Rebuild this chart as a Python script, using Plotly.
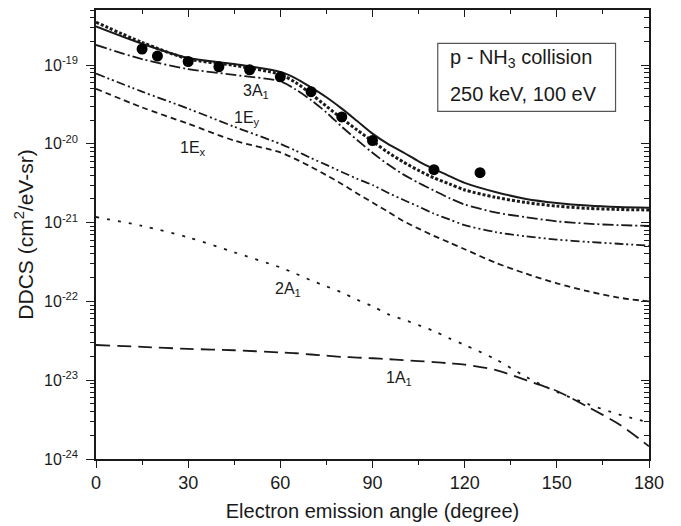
import plotly.graph_objects as go
import numpy as np

# ---------------- data ----------------
angles = [0, 15, 30, 45, 60, 65, 70, 75, 80, 85, 90, 95, 100, 105, 110, 115, 120, 130, 140, 150, 160, 170, 180]

total_solid = [3.1e-19, 1.87e-19, 1.23e-19, 1.03e-19, 8.2e-20, 6.8e-20, 5.2e-20, 3.9e-20, 2.8e-20, 1.95e-20,
               1.35e-20, 1.0e-20, 7.8e-21, 6.0e-21, 4.8e-21, 3.9e-21, 3.2e-21, 2.45e-21, 2.0e-21, 1.78e-21,
               1.65e-21, 1.58e-21, 1.55e-21]
total_dotted = [3.5e-19, 1.94e-19, 1.2e-19, 9.9e-20, 7.6e-20, 6.0e-20, 4.3e-20, 3.0e-20, 2.1e-20, 1.5e-20,
                1.08e-20, 7.8e-21, 5.9e-21, 4.6e-21, 3.7e-21, 3.1e-21, 2.6e-21, 2.1e-21, 1.8e-21, 1.62e-21,
                1.52e-21, 1.47e-21, 1.45e-21]
orb_3A1 = [1.8e-19, 1.19e-19, 8.9e-20, 7.5e-20, 6.2e-20, 4.9e-20, 3.6e-20, 2.5e-20, 1.65e-20, 1.12e-20,
           7.7e-21, 5.5e-21, 4.1e-21, 3.2e-21, 2.55e-21, 2.05e-21, 1.7e-21, 1.35e-21, 1.17e-21, 1.04e-21,
           9.7e-22, 9.3e-22, 9.1e-22]
orb_1Ey = [7.8e-20, 4.6e-20, 2.8e-20, 1.65e-20, 1.0e-20, 8.2e-21, 6.6e-21, 5.4e-21, 4.4e-21, 3.6e-21,
           3.0e-21, 2.4e-21, 1.95e-21, 1.6e-21, 1.3e-21, 1.1e-21, 9.3e-22, 7.6e-22, 6.7e-22, 6.1e-22,
           5.7e-22, 5.4e-22, 5.1e-22]
orb_1Ex = [5.0e-20, 2.9e-20, 1.8e-20, 1.1e-20, 7.8e-21, 6.4e-21, 5.1e-21, 4.0e-21, 3.1e-21, 2.35e-21,
           1.8e-21, 1.38e-21, 1.05e-21, 8.4e-22, 6.8e-22, 5.6e-22, 4.6e-22, 3.1e-22, 2.25e-22, 1.7e-22,
           1.35e-22, 1.12e-22, 1.0e-22]
orb_2A1 = [1.18e-21, 9.1e-22, 6.5e-22, 4.2e-22, 2.7e-22, 2.25e-22, 1.85e-22, 1.55e-22, 1.3e-22, 1.05e-22,
           8.7e-23, 6.9e-23, 5.9e-23, 5.0e-23, 4.2e-23, 3.4e-23, 2.8e-23, 1.85e-23, 1.1e-23, 7.1e-24,
           5.0e-24, 3.7e-24, 2.9e-24]
orb_1A1 = [2.8e-23, 2.65e-23, 2.5e-23, 2.4e-23, 2.25e-23, 2.2e-23, 2.12e-23, 2.05e-23, 1.98e-23, 1.94e-23,
           1.9e-23, 1.85e-23, 1.8e-23, 1.75e-23, 1.7e-23, 1.64e-23, 1.58e-23, 1.35e-23, 1.0e-23, 7.3e-24,
           4.6e-24, 2.8e-24, 1.45e-24]

exp_angles = [15, 20, 30, 40, 50, 60, 70, 80, 90, 110, 125]
exp_ddcs = [1.6e-19, 1.3e-19, 1.11e-19, 9.5e-20, 8.7e-20, 7.1e-20, 4.6e-20, 2.2e-20, 1.1e-20, 4.7e-21, 4.3e-21]

x_ticks = [0, 30, 60, 90, 120, 150, 180]
y_decades = [-24, -23, -22, -21, -20, -19]
y_ticktext = ["10<sup>%d</sup>" % d for d in y_decades]

curve_labels = [("3A<sub>1</sub>", 52, 4.6e-20), ("1E<sub>y</sub>", 49, 2.1e-20),
                ("1E<sub>x</sub>", 31.5, 8.8e-21), ("2A<sub>1</sub>", 62.5, 1.4e-22),
                ("1A<sub>1</sub>", 98.5, 1.05e-23)]

# ---------------- figure ----------------
FONT = "Liberation Sans, Arial, sans-serif"
INK = "#1a1a1a"
fig = go.Figure()

def add_line(y, dash, width=1.8):
    fig.add_trace(go.Scatter(x=angles, y=y, mode="lines",
                             line=dict(color=INK, width=width, dash=dash, shape="spline", smoothing=0.8),
                             showlegend=False, hoverinfo="skip"))

add_line(orb_1A1, "14px,7px")
add_line(orb_2A1, "3px,8px")
add_line(orb_1Ex, "6px,4px")
add_line(orb_1Ey, "9px,3px,2px,3px,2px,3px")
add_line(orb_3A1, "11px,3px,2px,3px")
add_line(total_dotted, "3px,2px", width=3)
add_line(total_solid, "solid", width=2)

fig.add_trace(go.Scatter(x=exp_angles, y=exp_ddcs, mode="markers",
                         marker=dict(color="black", size=11, symbol="circle"),
                         showlegend=False, hoverinfo="skip"))

minor_x = [15, 45, 75, 105, 135, 165]
minor_y = [m * 10.0 ** e for e in range(-24, -18) for m in range(2, 10)]
yrange = [-24, np.log10(5e-19)]

# the page body adds an 8px offset, so the figure is sized to fit the window
fig.update_layout(
    width=673, height=518,
    margin=dict(l=88, r=31.5, t=1.5, b=67),
    paper_bgcolor="white", plot_bgcolor="white",
    font=dict(family=FONT, color=INK),
    xaxis=dict(range=[0, 180], tickvals=x_ticks, ticks="outside", ticklen=7, tickwidth=1.3,
               tickcolor=INK, showline=True, linecolor=INK, linewidth=1.5, showgrid=False, zeroline=False,
               automargin=False, ticklabelstandoff=0,
               tickfont=dict(size=18), title=dict(text="Electron emission angle (degree)",
                                                  font=dict(size=20), standoff=12),
               minor=dict(tickvals=minor_x, ticks="outside", ticklen=4, tickwidth=1.3, tickcolor=INK,
                          showgrid=False)),
    xaxis2=dict(range=[0, 180], overlaying="x", side="top", tickvals=x_ticks, ticks="inside", ticklen=7,
                tickwidth=1.3, tickcolor=INK, showline=True, linecolor=INK, linewidth=1.5, showgrid=False,
                zeroline=False, showticklabels=False, automargin=False,
                minor=dict(tickvals=minor_x, ticks="inside", ticklen=4.5, tickwidth=1.3, tickcolor=INK,
                           showgrid=False)),
    yaxis=dict(type="log", range=yrange, tickvals=[10.0 ** d for d in y_decades], ticktext=y_ticktext,
               ticks="outside", ticklen=8, tickwidth=1.3, tickcolor=INK, showline=True, linecolor=INK,
               linewidth=1.5, showgrid=False, zeroline=False, tickfont=dict(size=16),
               automargin=False, ticklabelstandoff=5,
               title=dict(text="DDCS (cm<sup>2</sup>/eV-sr)", font=dict(size=21), standoff=5),
               minor=dict(tickvals=minor_y, ticks="outside", ticklen=4.5, tickwidth=1.1, tickcolor=INK,
                          showgrid=False)),
    yaxis2=dict(type="log", range=yrange, overlaying="y", side="right",
                tickvals=[10.0 ** d for d in y_decades], ticks="inside", ticklen=8, tickwidth=1.3,
                tickcolor=INK, showline=True, linecolor=INK, linewidth=1.5, showgrid=False, zeroline=False,
                showticklabels=False, automargin=False,
                minor=dict(tickvals=minor_y, ticks="inside", ticklen=5, tickwidth=1.1, tickcolor=INK,
                           showgrid=False)),
)

# dummy trace to activate the mirrored axes
fig.add_trace(go.Scatter(x=[None], y=[None], xaxis="x2", yaxis="y2", showlegend=False, hoverinfo="skip"))

for txt, xa, ya in curve_labels:
    fig.add_annotation(x=xa, y=np.log10(ya), text=txt, showarrow=False,
                       font=dict(size=16, family=FONT, color=INK))

# info box
fig.add_shape(type="rect", xref="paper", yref="paper", x0=0.618, x1=0.9395, y0=0.7742, y1=0.9255,
              line=dict(color="#555555", width=1.2), fillcolor="white", layer="above")
fig.add_annotation(xref="paper", yref="paper", x=0.636, y=0.893, xanchor="left", yanchor="middle",
                   text="p - NH<sub>3</sub> collision", showarrow=False, font=dict(size=20, family=FONT, color=INK))
fig.add_annotation(xref="paper", yref="paper", x=0.636, y=0.813, xanchor="left", yanchor="middle",
                   text="250 keV, 100 eV", showarrow=False, font=dict(size=20, family=FONT, color=INK))

fig.write_html("out.html")
